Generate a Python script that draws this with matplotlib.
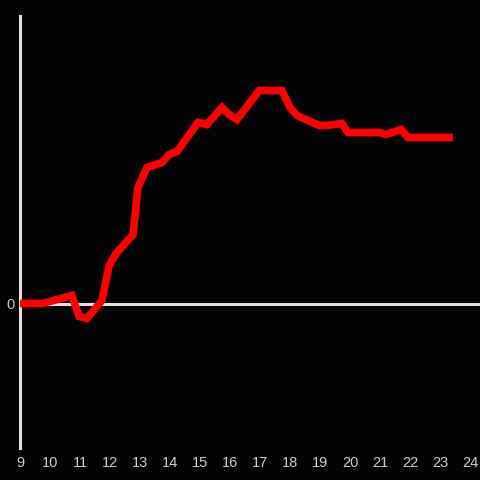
import matplotlib
matplotlib.use("Agg")
import matplotlib.pyplot as plt

hours = [9.0, 9.73, 10.0, 10.73, 10.97, 11.23, 11.73, 11.97, 12.2, 12.77, 12.93,
         13.23, 13.73, 13.97, 14.23, 14.67, 14.93, 15.23, 15.73, 15.97, 16.23,
         16.97, 17.73, 18.0, 18.23, 18.97, 19.2, 19.73, 19.93, 20.97, 21.2,
         21.7, 21.93, 23.3]
values = [0, 0, 2, 8, -13, -15, 3, 38, 50, 69, 116,
          136, 141, 149, 152, 170, 181, 179, 196, 189, 184,
          213, 213, 196, 188, 178, 178, 180, 171, 171, 169,
          174, 166, 166]
xticks = list(range(9, 25))

bg = "#040306"
fig = plt.figure(figsize=(4.8, 4.8), dpi=100, facecolor=bg)
ax = fig.add_axes([20/480, 32/480, 460/480, 432/480], facecolor=bg)
ax.plot(hours, values, color="#ff0000", linewidth=5.5, solid_joinstyle="miter", zorder=3)
ax.axhline(0, color="#e0e0e0", linewidth=2.2, zorder=2)
ax.set_xlim(9, 24.33)
ax.set_ylim(-144.5, 287.5)
for s in ["top", "right", "bottom"]:
    ax.spines[s].set_visible(False)
ax.spines["left"].set_color("#e0e0e0")
ax.spines["left"].set_linewidth(2.2)
ax.set_xticks(xticks)
ax.set_xticklabels([str(t) for t in xticks])
ax.set_yticks([0])
ax.set_yticklabels(["0"])
ax.tick_params(length=0, colors="#cccccc", labelsize=10.5, pad=6)
ax.tick_params(axis="y", pad=4)
for lab in ax.get_xticklabels() + ax.get_yticklabels():
    lab.set_fontfamily("Liberation Sans")
fig.savefig("out.png", dpi=100, facecolor=bg)
